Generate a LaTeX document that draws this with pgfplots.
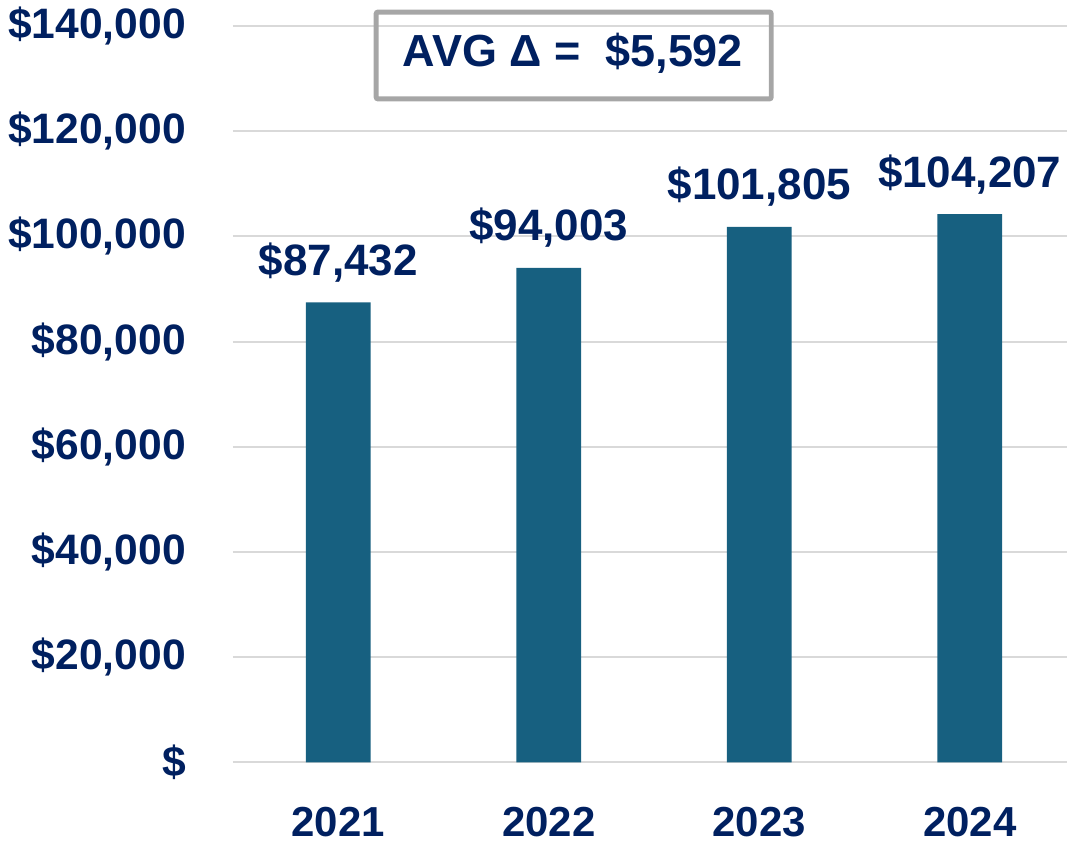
\documentclass[border=0pt]{standalone}
\usepackage{pgfplots}
\pgfplotsset{compat=1.18}
\usepackage{fontspec}
\setmainfont{Liberation Sans}
\definecolor{barc}{RGB}{23,96,128}
\definecolor{navy}{RGB}{0,32,96}
\definecolor{gridc}{RGB}{217,217,217}
\definecolor{boxc}{RGB}{166,166,166}
\newcommand{\bigf}{\fontsize{42.6}{48}\selectfont\bfseries}
\newcommand{\labf}{\fontsize{44}{50}\selectfont\bfseries}
\begin{document}
\begin{tikzpicture}
\begin{axis}[
 scale only axis, width=834.8pt, height=737pt,
 xmin=-0.5, xmax=3.462, ymin=0, ymax=140000,
 axis line style={draw=none},
 ytick={0,20000,40000,60000,80000,100000,120000,140000},
 yticklabels={{\$},{\$20,000},{\$40,000},{\$60,000},{\$80,000},{\$100,000},{\$120,000},{\$140,000}},
 xtick={0,1,2,3}, xticklabels={2021,2022,2023,2024},
 major tick length=0pt,
 tick style={draw=none},
 ymajorgrids, grid style={gridc, line width=2pt},
 yticklabel style={anchor=east, inner sep=0pt, xshift=-47pt, font=\bigf, text=navy},
 xticklabel style={anchor=north, inner sep=0pt, yshift=-45pt, font=\fontsize{42}{48}\selectfont\bfseries, text=navy},
 clip=false,
 scaled y ticks=false,
]
\addplot[ybar, fill=barc, draw=none, bar width=65pt,
  nodes near coords, point meta=explicit symbolic,
  nodes near coords style={anchor=base, yshift=27pt, inner sep=0pt, font=\labf, text=navy}]
  coordinates {(0,87432) [\$87,432] (1,94003) [\$94,003] (2,101805) [\$101,805] (3,104207) [\$104,207]};
\draw[boxc, line width=5pt, rounded corners=2pt] (axis cs:0.18,142653) rectangle (axis cs:2.057,126128);
\node[anchor=base, font=\fontsize{45}{52}\selectfont\bfseries, text=navy, inner sep=0pt] at (axis cs:1.115,132200) {AVG Δ = \ \$5,592};
\coordinate (O) at (axis cs:-0.5,0);
\end{axis}
\path[use as bounding box] ([shift={(-233.2pt,-84pt)}]O) rectangle ([shift={(834.8pt,763pt)}]O);
\end{tikzpicture}
\end{document}
